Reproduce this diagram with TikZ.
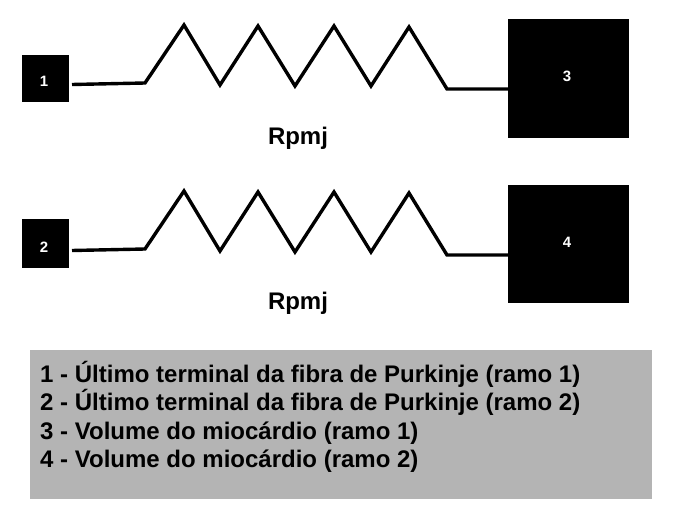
\documentclass[tikz,border=0pt]{standalone}
\usepackage{fontspec}
\setmainfont{Liberation Sans}
\tikzset{
  x=1pt,y=-1pt,
  sq/.style={fill=black,text=white,font=\bfseries\fontsize{15}{17}\selectfont,inner sep=0pt,anchor=north west},
  bignum/.style={text=white,font=\bfseries\fontsize{15}{17}\selectfont,inner sep=0pt},
  wire/.style={line width=3.4pt,line join=miter,black},
  lab/.style={font=\bfseries\fontsize{24}{28}\selectfont,inner sep=0pt},
  legend/.style={font=\bfseries\fontsize{24}{28.5}\selectfont,inner sep=0pt,anchor=north west,align=left}
}
\begin{document}
\begin{tikzpicture}
\useasboundingbox (0,0) rectangle (678,527);
\fill[white] (0,0) rectangle (678,527);
\node[sq,minimum width=47pt,minimum height=47pt] (a) at (22,55) {};
\node[sq,minimum width=47pt,minimum height=49pt] (b) at (22,219) {};
\node[bignum] (at) at (44,81) {1};
\node[bignum] (bt) at (44,247) {2};
\node[fill=black,inner sep=0pt,anchor=north west,minimum width=121pt,minimum height=119pt] (c) at (508,19) {};
\node[fill=black,inner sep=0pt,anchor=north west,minimum width=121pt,minimum height=118pt] (d) at (508,185) {};
\node[bignum] (ct) at (567,76) {3};
\node[bignum] (dt) at (567,242) {4};
\coordinate (a0) at (72,84.5);
\coordinate (b0) at (72,250.5);
\coordinate (c0) at (c.west |- 0,89);
\coordinate (d0) at (d.west |- 0,255);
\draw[wire] (a0) -- (145,83) -- (184,25) -- (220,85) -- (258,26) -- (295,86) -- (334,26) -- (371,86) -- (409,27) -- (447,89) -- (c0);
\draw[wire] (b0) -- (145,249) -- (184,191) -- (220,251) -- (258,192) -- (295,252) -- (334,192) -- (371,252) -- (409,193) -- (447,255) -- (d0);
\node[lab] (r1) at (298,138) {Rpmj};
\node[lab] (r2) at (298,303) {Rpmj};
\node[fill=black!29.5,inner sep=0pt,anchor=north west,minimum width=622pt,minimum height=149pt] (g) at (30,350) {};
\node[legend] (t) at (40,361) {1 - Último terminal da fibra de Purkinje (ramo 1)\\2 - Último terminal da fibra de Purkinje (ramo 2)\\3 - Volume do miocárdio (ramo 1)\\4 - Volume do miocárdio (ramo 2)};
\end{tikzpicture}
\end{document}
